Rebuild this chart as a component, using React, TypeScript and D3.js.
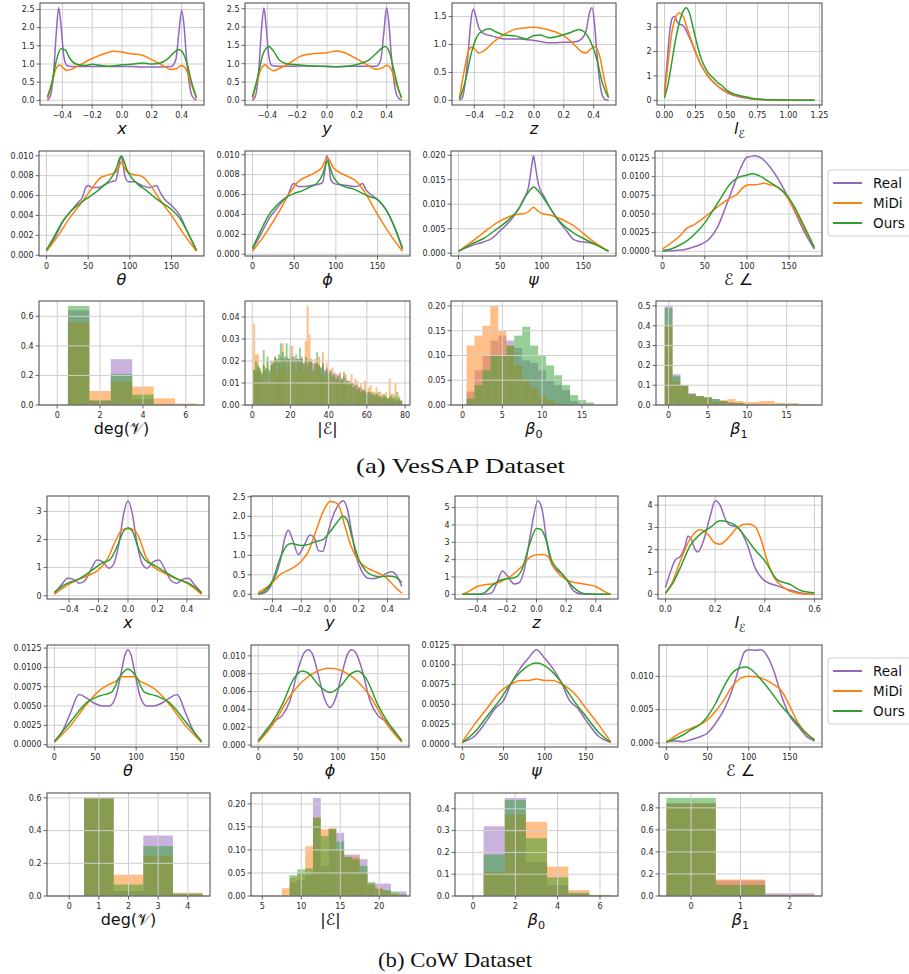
import React from 'react';
import * as d3 from 'd3';

type Pt = [number, number];

const SERIES = ['Real', 'MiDi', 'Ours'];
const COLORS = ['#9467bd', '#ff7f0e', '#2ca02c'];

// ================= VesSAP KDE data =================
const vesX_real: Pt[] = [[-0.5,0.0],[-0.48,0.12],[-0.46,0.7],[-0.44,1.9],[-0.425,2.55],[-0.41,2.1],[-0.39,1.2],[-0.37,0.96],[-0.34,0.93],[-0.25,0.93],[-0.15,0.93],[-0.05,0.93],[0.05,0.93],[0.15,0.92],[0.25,0.92],[0.33,0.93],[0.36,1.1],[0.38,1.8],[0.40,2.48],[0.415,2.1],[0.43,1.3],[0.45,0.5],[0.47,0.12],[0.5,0.0]];
const vesX_midi: Pt[] = [[-0.5,0.05],[-0.47,0.45],[-0.445,0.85],[-0.42,0.97],[-0.395,0.9],[-0.37,0.82],[-0.33,0.87],[-0.28,0.98],[-0.2,1.15],[-0.12,1.28],[-0.06,1.35],[0,1.33],[0.06,1.28],[0.13,1.25],[0.2,1.12],[0.27,0.97],[0.33,0.85],[0.36,0.86],[0.4,0.96],[0.43,0.85],[0.46,0.5],[0.5,0.05]];
const vesX_ours: Pt[] = [[-0.5,0.1],[-0.47,0.5],[-0.44,1.1],[-0.41,1.42],[-0.38,1.38],[-0.35,1.15],[-0.31,1.0],[-0.25,0.96],[-0.2,0.99],[-0.14,0.96],[-0.08,0.94],[0,0.98],[0.08,1.0],[0.14,1.03],[0.2,1.0],[0.25,1.02],[0.3,1.12],[0.35,1.32],[0.38,1.40],[0.41,1.3],[0.44,0.95],[0.47,0.45],[0.5,0.08]];

const vesY_real: Pt[] = [[-0.5,0.0],[-0.48,0.12],[-0.46,0.7],[-0.44,1.9],[-0.423,2.52],[-0.41,2.1],[-0.39,1.2],[-0.37,0.95],[-0.34,0.93],[-0.25,0.93],[-0.15,0.94],[-0.05,0.93],[0.05,0.92],[0.15,0.93],[0.25,0.93],[0.33,0.93],[0.36,1.1],[0.38,1.8],[0.40,2.53],[0.415,2.1],[0.43,1.3],[0.45,0.5],[0.47,0.12],[0.5,0.0]];
const vesY_midi: Pt[] = [[-0.5,0.05],[-0.47,0.5],[-0.44,0.88],[-0.415,0.97],[-0.39,0.88],[-0.36,0.81],[-0.32,0.87],[-0.25,1.02],[-0.18,1.2],[-0.1,1.27],[0,1.3],[0.07,1.35],[0.13,1.28],[0.2,1.13],[0.27,0.97],[0.33,0.85],[0.37,0.88],[0.4,0.96],[0.43,0.85],[0.46,0.5],[0.5,0.05]];
const vesY_ours: Pt[] = [[-0.5,0.1],[-0.47,0.55],[-0.43,1.25],[-0.39,1.47],[-0.36,1.35],[-0.32,1.1],[-0.27,1.0],[-0.2,0.97],[-0.1,0.94],[0,0.93],[0.08,0.92],[0.15,0.94],[0.22,1.0],[0.28,1.1],[0.33,1.28],[0.37,1.43],[0.39,1.47],[0.42,1.3],[0.45,0.8],[0.48,0.3],[0.5,0.08]];

const vesZ_real: Pt[] = [[-0.5,0.0],[-0.48,0.05],[-0.46,0.35],[-0.44,0.9],[-0.42,1.5],[-0.405,1.63],[-0.39,1.5],[-0.37,1.3],[-0.34,1.2],[-0.28,1.15],[-0.2,1.1],[-0.1,1.1],[0,1.07],[0.05,1.05],[0.1,1.03],[0.2,1.04],[0.28,1.05],[0.32,1.1],[0.35,1.25],[0.375,1.6],[0.39,1.66],[0.405,1.4],[0.42,0.9],[0.44,0.35],[0.46,0.08],[0.48,0.01],[0.5,0.0]];
const vesZ_midi: Pt[] = [[-0.5,0.05],[-0.47,0.5],[-0.44,0.88],[-0.42,0.95],[-0.4,0.92],[-0.37,0.85],[-0.33,0.9],[-0.27,1.05],[-0.2,1.18],[-0.12,1.28],[-0.05,1.3],[0,1.31],[0.07,1.28],[0.15,1.22],[0.22,1.12],[0.28,0.97],[0.32,0.87],[0.35,0.85],[0.38,0.92],[0.41,0.96],[0.44,0.8],[0.47,0.4],[0.5,0.05]];
const vesZ_ours: Pt[] = [[-0.5,0.02],[-0.46,0.35],[-0.42,0.85],[-0.38,1.15],[-0.34,1.25],[-0.3,1.28],[-0.25,1.22],[-0.2,1.17],[-0.12,1.15],[-0.05,1.1],[0,1.16],[0.04,1.17],[0.1,1.12],[0.18,1.16],[0.25,1.22],[0.3,1.27],[0.34,1.22],[0.38,1.05],[0.42,0.75],[0.46,0.3],[0.5,0.05]];

const vesL_real: Pt[] = [[0,0.3],[0.02,1.5],[0.04,2.7],[0.06,3.35],[0.08,3.45],[0.1,3.25],[0.12,3.12],[0.14,3.1],[0.16,3.0],[0.18,2.8],[0.22,2.35],[0.26,1.85],[0.3,1.4],[0.35,1.0],[0.4,0.72],[0.45,0.5],[0.5,0.33],[0.55,0.22],[0.6,0.15],[0.7,0.07],[0.8,0.03],[0.9,0.015],[1.0,0.008],[1.1,0.003],[1.21,0.0]];
const vesL_midi: Pt[] = [[0,0.2],[0.03,1.6],[0.06,2.8],[0.09,3.4],[0.12,3.58],[0.15,3.45],[0.18,3.0],[0.22,2.4],[0.26,1.85],[0.3,1.4],[0.35,1.0],[0.4,0.72],[0.45,0.5],[0.5,0.35],[0.55,0.24],[0.6,0.17],[0.65,0.13],[0.7,0.07],[0.8,0.03],[0.9,0.015],[1.0,0.008],[1.1,0.003],[1.21,0.0]];
const vesL_ours: Pt[] = [[0,0.1],[0.03,0.7],[0.06,1.6],[0.09,2.5],[0.12,3.2],[0.15,3.65],[0.175,3.8],[0.2,3.6],[0.23,3.0],[0.26,2.35],[0.3,1.65],[0.35,1.15],[0.4,0.88],[0.43,0.72],[0.46,0.62],[0.5,0.42],[0.55,0.28],[0.6,0.2],[0.65,0.15],[0.7,0.09],[0.8,0.04],[0.9,0.02],[1.0,0.01],[1.1,0.004],[1.21,0.0]];

const vesTheta_real: Pt[] = [[0,0.0005],[10,0.0018],[20,0.0034],[30,0.0045],[38,0.0053],[43,0.0058],[47,0.0068],[50,0.0070],[55,0.0068],[62,0.0068],[70,0.0071],[78,0.0074],[83,0.0075],[86,0.0085],[89,0.0099],[91,0.0096],[94,0.0080],[98,0.0074],[105,0.0074],[115,0.0070],[123,0.0068],[128,0.0069],[132,0.0070],[136,0.0064],[142,0.0056],[150,0.0050],[160,0.0040],[170,0.0022],[180,0.0005]];
const vesTheta_midi: Pt[] = [[0,0.0004],[15,0.0021],[30,0.0040],[45,0.0056],[55,0.0068],[65,0.0078],[75,0.0081],[82,0.0083],[87,0.0089],[90,0.0094],[93,0.0089],[98,0.0083],[105,0.0081],[115,0.0079],[125,0.0070],[135,0.0057],[150,0.0040],[165,0.0021],[180,0.0004]];
const vesTheta_ours: Pt[] = [[0,0.0005],[10,0.0020],[20,0.0035],[30,0.0045],[40,0.0052],[50,0.0058],[60,0.0064],[70,0.0071],[78,0.0078],[84,0.0088],[88,0.0098],[90,0.0100],[92,0.0097],[96,0.0087],[102,0.0078],[110,0.0071],[120,0.0065],[130,0.0058],[140,0.0052],[150,0.0046],[160,0.0037],[170,0.0022],[180,0.0005]];

const vesPhi_real: Pt[] = [[0,0.0005],[10,0.0020],[20,0.0036],[30,0.0047],[38,0.0055],[43,0.0060],[47,0.0069],[50,0.0071],[55,0.0068],[62,0.0068],[70,0.0069],[78,0.0070],[84,0.0072],[87,0.0085],[89,0.0099],[91,0.0094],[94,0.0075],[98,0.0071],[105,0.0070],[115,0.0069],[123,0.0068],[128,0.0069],[132,0.0071],[136,0.0065],[142,0.0060],[150,0.0055],[160,0.0045],[170,0.0028],[180,0.0005]];
const vesPhi_midi: Pt[] = [[0,0.0003],[15,0.0020],[30,0.0040],[45,0.0062],[55,0.0073],[65,0.0078],[75,0.0082],[83,0.0087],[90,0.0097],[97,0.0087],[105,0.0082],[115,0.0078],[125,0.0073],[135,0.0062],[150,0.0040],[165,0.0020],[180,0.0003]];
const vesPhi_ours: Pt[] = [[0,0.0006],[10,0.0024],[20,0.0040],[30,0.0050],[40,0.0057],[50,0.0061],[60,0.0064],[70,0.0068],[78,0.0072],[84,0.0080],[88,0.0090],[90,0.0094],[92,0.0090],[96,0.0080],[102,0.0072],[110,0.0068],[120,0.0066],[130,0.0062],[140,0.0058],[150,0.0055],[160,0.0045],[170,0.0028],[180,0.0006]];

const vesPsi_real: Pt[] = [[0,0.0004],[15,0.0015],[30,0.0023],[40,0.0030],[50,0.0046],[60,0.0062],[70,0.0085],[78,0.0110],[84,0.0135],[88,0.0180],[90,0.0199],[92,0.0180],[96,0.0140],[102,0.0118],[110,0.0092],[120,0.0066],[130,0.0045],[138,0.0028],[145,0.0024],[155,0.0022],[165,0.0018],[180,0.0004]];
const vesPsi_midi: Pt[] = [[0,0.0004],[15,0.0022],[30,0.0042],[40,0.0055],[50,0.0066],[60,0.0074],[70,0.0079],[80,0.0081],[86,0.0088],[90,0.0094],[94,0.0088],[100,0.0081],[110,0.0078],[120,0.0072],[130,0.0064],[140,0.0054],[150,0.0040],[165,0.0020],[180,0.0004]];
const vesPsi_ours: Pt[] = [[0,0.0004],[15,0.0018],[30,0.0030],[45,0.0048],[60,0.0068],[72,0.0090],[82,0.0120],[88,0.0133],[90,0.0135],[93,0.0132],[100,0.0118],[110,0.0092],[120,0.0068],[135,0.0045],[150,0.0030],[165,0.0017],[180,0.0004]];

const vesAng_real: Pt[] = [[0,0.0],[15,0.0001],[25,0.0002],[35,0.0005],[45,0.0009],[55,0.0016],[65,0.0032],[75,0.0060],[85,0.0090],[92,0.0110],[100,0.0126],[110,0.0128],[118,0.0124],[128,0.0112],[138,0.0095],[148,0.0074],[158,0.0050],[168,0.0026],[180,0.0003]];
const vesAng_midi: Pt[] = [[0,0.0003],[10,0.0011],[20,0.0020],[28,0.0030],[38,0.0036],[48,0.0044],[58,0.0053],[68,0.0062],[78,0.0070],[88,0.0076],[95,0.0085],[102,0.0089],[110,0.0089],[120,0.0091],[128,0.0089],[138,0.0085],[148,0.0072],[158,0.0052],[168,0.0030],[180,0.0005]];
const vesAng_ours: Pt[] = [[0,0.0001],[10,0.0003],[20,0.0008],[30,0.0015],[40,0.0025],[50,0.0038],[60,0.0055],[70,0.0073],[80,0.0090],[90,0.0099],[100,0.0102],[107,0.0104],[115,0.0101],[125,0.0094],[135,0.0087],[145,0.0078],[155,0.0062],[165,0.0040],[180,0.0005]];

// ================= VesSAP histogram data =================
const vesDeg_bins = [0, 1, 2, 3, 4, 5, 6];
const vesDeg_real = [0, 0.64, 0.03, 0.31, 0.04, 0, 0];
const vesDeg_midi = [0, 0.56, 0.095, 0.16, 0.125, 0.045, 0.01];
const vesDeg_ours = [0, 0.67, 0.03, 0.21, 0.07, 0.005, 0];

const vesEdges_bins = d3.range(1, 79);
const vesEdges_real = [0.016,0.015,0.017,0.016,0.014,0.018,0.016,0.017,0.015,0.018,0.019,0.021,0.020,0.019,0.022,0.021,0.020,0.022,0.021,0.021,0.020,0.022,0.021,0.020,0.021,0.022,0.019,0.020,0.021,0.020,0.019,0.019,0.018,0.019,0.018,0.017,0.018,0.016,0.017,0.015,0.016,0.014,0.015,0.014,0.013,0.014,0.012,0.013,0.012,0.011,0.011,0.010,0.010,0.009,0.009,0.008,0.008,0.007,0.007,0.006,0.006,0.006,0.005,0.005,0.005,0.004,0.004,0.004,0.004,0.003,0.003,0.003,0.003,0.003,0.002,0.002,0.002,0.002];
const vesEdges_midi = [0.037,0.023,0.023,0.016,0.012,0.018,0.016,0.020,0.010,0.018,0.020,0.022,0.014,0.021,0.018,0.028,0.021,0.016,0.021,0.015,0.027,0.021,0.015,0.021,0.018,0.021,0.016,0.029,0.045,0.032,0.020,0.015,0.021,0.019,0.022,0.014,0.024,0.013,0.019,0.012,0.016,0.017,0.013,0.011,0.014,0.015,0.011,0.010,0.014,0.009,0.011,0.014,0.008,0.012,0.011,0.007,0.010,0.006,0.011,0.005,0.008,0.009,0.005,0.006,0.008,0.004,0.006,0.005,0.004,0.006,0.003,0.012,0.004,0.005,0.010,0.003,0.004,0.002];
const vesEdges_ours = [0.016,0.020,0.018,0.017,0.015,0.025,0.017,0.022,0.016,0.020,0.019,0.022,0.021,0.023,0.028,0.024,0.022,0.028,0.021,0.027,0.022,0.020,0.023,0.021,0.026,0.021,0.019,0.022,0.018,0.020,0.021,0.016,0.019,0.024,0.018,0.017,0.019,0.015,0.016,0.014,0.015,0.013,0.014,0.012,0.013,0.011,0.012,0.015,0.010,0.011,0.009,0.010,0.008,0.009,0.007,0.008,0.006,0.007,0.006,0.005,0.006,0.005,0.006,0.004,0.005,0.006,0.004,0.003,0.005,0.004,0.003,0.004,0.005,0.003,0.004,0.006,0.003,0.002];

const vesB0_bins = d3.range(0, 19);
const vesB0_real = [0,0.027,0.07,0.10,0.13,0.14,0.13,0.115,0.09,0.085,0.07,0.05,0.04,0.03,0.008,0.003,0,0,0];
const vesB0_midi = [0,0.12,0.14,0.16,0.20,0.15,0.12,0.08,0.05,0.035,0.02,0.01,0.003,0,0,0,0,0,0];
const vesB0_ours = [0,0.013,0.04,0.07,0.10,0.10,0.12,0.14,0.158,0.12,0.10,0.08,0.06,0.04,0.02,0.01,0.005,0,0];

const vesB1_bins = d3.range(0, 19);
const vesB1_real = [0.50,0.155,0.10,0.06,0.045,0.035,0.03,0.02,0.015,0.01,0.005,0.005,0.003,0.002,0.001,0,0,0,0];
const vesB1_midi = [0.40,0.12,0.10,0.05,0.045,0.04,0.015,0.025,0.03,0.02,0.015,0.015,0.02,0.02,0.01,0.01,0.01,0.005,0.005];
const vesB1_ours = [0.49,0.145,0.10,0.055,0.045,0.04,0.03,0.02,0.01,0.01,0.005,0.005,0.003,0.002,0.001,0,0,0,0];

// ================= CoW KDE data =================
const cowX_real: Pt[] = [[-0.5,0.1],[-0.45,0.4],[-0.41,0.62],[-0.37,0.58],[-0.33,0.44],[-0.29,0.55],[-0.25,0.95],[-0.21,1.27],[-0.17,1.2],[-0.13,0.98],[-0.1,1.1],[-0.06,1.9],[-0.03,2.9],[0,3.38],[0.03,2.9],[0.06,1.9],[0.1,1.1],[0.13,0.98],[0.17,1.2],[0.21,1.27],[0.25,0.95],[0.29,0.55],[0.33,0.44],[0.37,0.58],[0.41,0.62],[0.45,0.4],[0.5,0.1]];
const cowX_midi: Pt[] = [[-0.5,0.05],[-0.42,0.35],[-0.35,0.55],[-0.28,0.7],[-0.2,0.92],[-0.14,1.3],[-0.08,2.0],[-0.04,2.35],[0,2.38],[0.04,2.35],[0.08,2.0],[0.12,1.4],[0.18,1.0],[0.25,0.8],[0.32,0.62],[0.4,0.45],[0.5,0.05]];
const cowX_ours: Pt[] = [[-0.5,0.12],[-0.42,0.42],[-0.34,0.58],[-0.26,0.85],[-0.18,1.15],[-0.12,1.3],[-0.07,1.8],[-0.03,2.3],[0,2.42],[0.03,2.3],[0.07,1.7],[0.12,1.25],[0.18,1.08],[0.26,0.82],[0.34,0.58],[0.42,0.42],[0.5,0.1]];

const cowY_real: Pt[] = [[-0.5,0.0],[-0.45,0.05],[-0.4,0.3],[-0.35,0.8],[-0.31,1.5],[-0.29,1.64],[-0.26,1.4],[-0.22,1.02],[-0.18,1.25],[-0.14,1.52],[-0.11,1.45],[-0.08,1.12],[-0.05,1.1],[-0.02,1.5],[0.02,2.0],[0.06,2.3],[0.09,2.4],[0.12,2.2],[0.15,1.6],[0.18,1.0],[0.22,0.6],[0.26,0.42],[0.3,0.4],[0.35,0.45],[0.4,0.55],[0.43,0.58],[0.46,0.5],[0.5,0.2]];
const cowY_midi: Pt[] = [[-0.5,0.04],[-0.4,0.3],[-0.35,0.5],[-0.3,0.6],[-0.25,0.7],[-0.2,0.85],[-0.15,1.1],[-0.1,1.6],[-0.05,2.1],[0,2.38],[0.04,2.35],[0.07,2.2],[0.1,1.8],[0.15,1.2],[0.2,0.85],[0.25,0.7],[0.3,0.6],[0.35,0.52],[0.4,0.4],[0.45,0.2],[0.5,0.03]];
const cowY_ours: Pt[] = [[-0.5,0.0],[-0.45,0.1],[-0.4,0.35],[-0.35,0.9],[-0.3,1.25],[-0.27,1.3],[-0.2,1.25],[-0.15,1.28],[-0.1,1.35],[-0.05,1.4],[0,1.6],[0.05,1.85],[0.09,2.0],[0.12,1.9],[0.15,1.5],[0.2,0.9],[0.25,0.6],[0.3,0.48],[0.35,0.45],[0.4,0.47],[0.45,0.45],[0.5,0.3]];

const cowZ_real: Pt[] = [[-0.5,0.0],[-0.35,0.0],[-0.3,0.1],[-0.27,0.6],[-0.23,1.35],[-0.2,1.1],[-0.15,0.6],[-0.12,0.65],[-0.08,1.5],[-0.04,3.5],[0.01,5.4],[0.04,4.8],[0.07,3.0],[0.1,1.8],[0.13,1.45],[0.17,1.2],[0.2,0.9],[0.25,0.2],[0.3,0.02],[0.35,0.0],[0.5,0.0]];
const cowZ_midi: Pt[] = [[-0.5,0.0],[-0.45,0.2],[-0.4,0.45],[-0.35,0.55],[-0.3,0.6],[-0.25,0.7],[-0.2,0.9],[-0.15,1.2],[-0.1,1.6],[-0.05,2.1],[0,2.28],[0.05,2.3],[0.08,2.15],[0.12,1.5],[0.16,1.1],[0.2,0.85],[0.25,0.7],[0.3,0.62],[0.35,0.55],[0.4,0.45],[0.45,0.2],[0.5,0.0]];
const cowZ_ours: Pt[] = [[-0.5,0.0],[-0.4,0.0],[-0.35,0.1],[-0.3,0.5],[-0.25,0.8],[-0.2,0.9],[-0.15,0.95],[-0.1,1.4],[-0.05,2.8],[0,3.8],[0.03,3.75],[0.07,3.0],[0.1,2.0],[0.15,1.4],[0.2,0.9],[0.25,0.4],[0.3,0.1],[0.35,0.02],[0.5,0.0]];

const cowL_real: Pt[] = [[0,0.3],[0.02,1.0],[0.04,1.55],[0.06,1.7],[0.08,2.2],[0.09,2.6],[0.1,2.55],[0.12,2.0],[0.13,1.9],[0.15,2.3],[0.18,3.5],[0.2,4.2],[0.22,4.0],[0.24,3.4],[0.26,3.1],[0.28,3.05],[0.3,2.9],[0.33,2.2],[0.36,1.2],[0.4,0.6],[0.45,0.38],[0.5,0.2],[0.55,0.05],[0.6,0.0]];
const cowL_midi: Pt[] = [[0,0.05],[0.03,0.6],[0.06,1.5],[0.1,2.5],[0.14,2.9],[0.17,2.7],[0.2,2.3],[0.22,2.25],[0.25,2.5],[0.29,3.0],[0.33,3.15],[0.36,3.05],[0.38,2.6],[0.41,1.5],[0.44,0.7],[0.47,0.35],[0.5,0.15],[0.55,0.03],[0.6,0.0]];
const cowL_ours: Pt[] = [[0,0.05],[0.03,0.5],[0.06,1.2],[0.1,2.2],[0.14,2.7],[0.18,3.0],[0.22,3.3],[0.25,3.25],[0.28,3.1],[0.32,2.6],[0.36,2.0],[0.4,1.5],[0.45,0.65],[0.5,0.45],[0.55,0.15],[0.6,0.07]];

const cowTheta_real: Pt[] = [[0,0.0004],[10,0.0018],[20,0.0042],[30,0.0065],[40,0.0060],[50,0.0053],[60,0.0050],[67,0.0050],[75,0.0062],[82,0.0095],[86,0.0115],[90,0.0123],[94,0.0115],[98,0.0095],[105,0.0062],[113,0.0050],[120,0.0050],[130,0.0053],[140,0.0060],[150,0.0065],[160,0.0042],[170,0.0018],[180,0.0004]];
const cowTheta_midi: Pt[] = [[0,0.0003],[20,0.0025],[40,0.0053],[55,0.0070],[65,0.0077],[75,0.0082],[82,0.0088],[90,0.0088],[98,0.0088],[105,0.0082],[115,0.0077],[125,0.0070],[140,0.0053],[160,0.0025],[180,0.0003]];
const cowTheta_ours: Pt[] = [[0,0.0004],[20,0.0030],[40,0.0055],[55,0.0063],[70,0.0068],[80,0.0088],[90,0.0098],[100,0.0088],[110,0.0068],[125,0.0063],[140,0.0055],[160,0.0030],[180,0.0004]];

const cowPhi_real: Pt[] = [[0,0.0004],[10,0.0017],[20,0.0027],[30,0.0033],[40,0.0050],[50,0.0085],[58,0.0104],[63,0.0107],[68,0.0102],[75,0.0080],[82,0.0055],[90,0.0042],[98,0.0055],[105,0.0080],[112,0.0102],[117,0.0107],[122,0.0104],[130,0.0085],[140,0.0050],[150,0.0033],[160,0.0027],[170,0.0017],[180,0.0004]];
const cowPhi_midi: Pt[] = [[0,0.0003],[20,0.0025],[40,0.0055],[55,0.0071],[70,0.0081],[90,0.0086],[110,0.0081],[125,0.0071],[140,0.0055],[160,0.0025],[180,0.0003]];
const cowPhi_ours: Pt[] = [[0,0.0005],[15,0.0022],[30,0.0045],[45,0.0075],[55,0.0083],[65,0.0079],[75,0.0068],[90,0.0059],[105,0.0068],[115,0.0079],[125,0.0083],[135,0.0075],[150,0.0045],[165,0.0022],[180,0.0005]];

const cowPsi_real: Pt[] = [[0,0.0002],[15,0.0010],[30,0.0030],[40,0.0045],[50,0.0055],[60,0.0078],[70,0.0095],[80,0.0108],[90,0.0119],[100,0.0108],[110,0.0095],[120,0.0078],[130,0.0055],[140,0.0045],[150,0.0030],[165,0.0010],[180,0.0002]];
const cowPsi_midi: Pt[] = [[0,0.0003],[15,0.0025],[30,0.0045],[45,0.0065],[60,0.0076],[70,0.0080],[80,0.0080],[90,0.0082],[100,0.0080],[110,0.0080],[120,0.0076],[135,0.0065],[150,0.0045],[165,0.0025],[180,0.0003]];
const cowPsi_ours: Pt[] = [[0,0.0002],[15,0.0015],[30,0.0035],[45,0.0055],[60,0.0078],[75,0.0095],[90,0.0102],[105,0.0095],[120,0.0078],[135,0.0055],[150,0.0035],[165,0.0015],[180,0.0002]];

const cowAng_real: Pt[] = [[0,0.0003],[10,0.0003],[20,0.0002],[30,0.0005],[40,0.0009],[50,0.0015],[60,0.0030],[70,0.0050],[80,0.0080],[90,0.0120],[95,0.0137],[100,0.0140],[108,0.0139],[115,0.0140],[120,0.0135],[130,0.0110],[140,0.0070],[150,0.0040],[160,0.0025],[170,0.0010],[180,0.0003]];
const cowAng_midi: Pt[] = [[0,0.0001],[10,0.0010],[20,0.0017],[30,0.0022],[40,0.0027],[50,0.0035],[60,0.0048],[70,0.0065],[80,0.0085],[90,0.0097],[100,0.0100],[110,0.0099],[120,0.0095],[130,0.0088],[140,0.0078],[150,0.0055],[160,0.0030],[170,0.0015],[180,0.0005]];
const cowAng_ours: Pt[] = [[0,0.0001],[10,0.0006],[20,0.0012],[30,0.0020],[40,0.0027],[50,0.0040],[60,0.0060],[70,0.0085],[80,0.0105],[90,0.0113],[97,0.0114],[105,0.0108],[115,0.0095],[125,0.0080],[140,0.0055],[155,0.0035],[165,0.0020],[180,0.0004]];

// ================= CoW histogram data =================
const cowDeg_bins = [0, 1, 2, 3, 4];
const cowDeg_real = [0, 0.60, 0.03, 0.37, 0.01];
const cowDeg_midi = [0, 0.60, 0.13, 0.245, 0.02];
const cowDeg_ours = [0, 0.60, 0.07, 0.305, 0.015];

const cowEdges_bins = d3.range(5, 24);
const cowEdges_real = [0,0,0,0,0.03,0.035,0.045,0.213,0.065,0.145,0.137,0.09,0.09,0.08,0.025,0.027,0.027,0.005,0.01];
const cowEdges_midi = [0,0.002,0,0.017,0.04,0.05,0.108,0.17,0.145,0.148,0.10,0.085,0.085,0.05,0.027,0.018,0.01,0.005,0.002];
const cowEdges_ours = [0,0,0,0,0.045,0.058,0.06,0.17,0.13,0.145,0.118,0.085,0.08,0.065,0.03,0.015,0.013,0.01,0.004];

const cowB0_bins = [0, 1, 2, 3, 4, 5, 6];
const cowB0_real = [0, 0.32, 0.45, 0.155, 0.05, 0.01, 0.003];
const cowB0_midi = [0, 0.11, 0.375, 0.34, 0.135, 0.027, 0.005];
const cowB0_ours = [0, 0.19, 0.44, 0.265, 0.085, 0.015, 0.003];

const cowB1_bins = [0, 1, 2];
const cowB1_real = [0.84, 0.14, 0.025];
const cowB1_midi = [0.84, 0.15, 0.01];
const cowB1_ours = [0.89, 0.10, 0.01];

// ================= tick definitions =================
const ticksPos = [-0.4, -0.2, 0, 0.2, 0.4];
const ticksAngle = [0, 50, 100, 150];

// ================= layout =================
const ROWS = [[3, 105], [151, 256], [301, 405], [496, 599], [645, 747], [793, 896]];
const COLS = [
  [[40, 204], [245, 409], [452, 616], [657, 822]],
  [[39, 204], [245, 410], [451, 616], [655, 822]],
  [[39, 204], [245, 410], [451, 617], [656, 822]],
  [[47, 209], [251, 409], [455, 618], [658, 822]],
  [[47, 209], [251, 409], [455, 618], [659, 822]],
  [[47, 210], [251, 410], [455, 618], [659, 822]],
];

const LABEL_FONT = 16;
const TICK_FONT = 8;
const FONT = '"DejaVu Sans", sans-serif';
const SERIF = '"Liberation Serif", "DejaVu Serif", serif';

const it = (s: string) => <tspan fontStyle="italic">{s}</tspan>;
const sub = (s: string) => <tspan fontSize={LABEL_FONT * 0.7} dy={4}>{s}</tspan>;

interface Spec {
  kind: 'kde' | 'hist';
  kde?: Pt[][];
  bins?: number[];
  hist?: number[][];
  xDomain?: [number, number];
  xTicks: number[];
  xFmt: string;
  yTicks: number[];
  yFmt: string;
  label: React.ReactNode;
}

function kdeDomainX(series: Pt[][]): [number, number] {
  const lo = d3.min(series, s => d3.min(s, d => d[0]))!;
  const hi = d3.max(series, s => d3.max(s, d => d[0]))!;
  const m = (hi - lo) * 0.05;
  return [lo - m, hi + m];
}
function kdeDomainY(series: Pt[][]): [number, number] {
  const lo = d3.min(series, s => d3.min(s, d => d[1]))!;
  const hi = d3.max(series, s => d3.max(s, d => d[1]))!;
  const m = (hi - lo) * 0.05;
  return [lo - m, hi + m];
}

const specs: Spec[] = [
  { kind: 'kde', kde: [vesX_real, vesX_midi, vesX_ours], xTicks: ticksPos, xFmt: '.1f', yTicks: [0, 0.5, 1, 1.5, 2, 2.5], yFmt: '.1f', label: it('x') },
  { kind: 'kde', kde: [vesY_real, vesY_midi, vesY_ours], xTicks: ticksPos, xFmt: '.1f', yTicks: [0, 0.5, 1, 1.5, 2, 2.5], yFmt: '.1f', label: it('y') },
  { kind: 'kde', kde: [vesZ_real, vesZ_midi, vesZ_ours], xTicks: ticksPos, xFmt: '.1f', yTicks: [0, 0.5, 1, 1.5], yFmt: '.1f', label: it('z') },
  { kind: 'kde', kde: [vesL_real, vesL_midi, vesL_ours], xTicks: [0, 0.25, 0.5, 0.75, 1, 1.25], xFmt: '.2f', yTicks: [0, 1, 2, 3], yFmt: 'd', label: <>{it('l')}{sub('ℰ')}</> },
  { kind: 'kde', kde: [vesTheta_real, vesTheta_midi, vesTheta_ours], xTicks: ticksAngle, xFmt: 'd', yTicks: [0, 0.002, 0.004, 0.006, 0.008, 0.01], yFmt: '.3f', label: it('θ') },
  { kind: 'kde', kde: [vesPhi_real, vesPhi_midi, vesPhi_ours], xTicks: ticksAngle, xFmt: 'd', yTicks: [0, 0.002, 0.004, 0.006, 0.008, 0.01], yFmt: '.3f', label: it('ϕ') },
  { kind: 'kde', kde: [vesPsi_real, vesPsi_midi, vesPsi_ours], xTicks: ticksAngle, xFmt: 'd', yTicks: [0, 0.005, 0.01, 0.015, 0.02], yFmt: '.3f', label: it('ψ') },
  { kind: 'kde', kde: [vesAng_real, vesAng_midi, vesAng_ours], xTicks: ticksAngle, xFmt: 'd', yTicks: [0, 0.0025, 0.005, 0.0075, 0.01, 0.0125], yFmt: '.4f', label: <>ℰ ∠</> },
  { kind: 'hist', bins: vesDeg_bins, hist: [vesDeg_real, vesDeg_midi, vesDeg_ours], xDomain: [-0.85, 6.85], xTicks: [0, 2, 4, 6], xFmt: 'd', yTicks: [0, 0.2, 0.4, 0.6], yFmt: '.1f', label: <>deg(𝒱)</> },
  { kind: 'hist', bins: vesEdges_bins, hist: [vesEdges_real, vesEdges_midi, vesEdges_ours], xDomain: [-3.8, 82.6], xTicks: [0, 20, 40, 60, 80], xFmt: 'd', yTicks: [0, 0.01, 0.02, 0.03, 0.04], yFmt: '.2f', label: <>|ℰ|</> },
  { kind: 'hist', bins: vesB0_bins, hist: [vesB0_real, vesB0_midi, vesB0_ours], xDomain: [-1.45, 19.4], xTicks: [0, 5, 10, 15], xFmt: 'd', yTicks: [0, 0.05, 0.1, 0.15, 0.2], yFmt: '.2f', label: <>{it('β')}{sub('0')}</> },
  { kind: 'hist', bins: vesB1_bins, hist: [vesB1_real, vesB1_midi, vesB1_ours], xDomain: [-1.6, 19.5], xTicks: [0, 5, 10, 15], xFmt: 'd', yTicks: [0, 0.1, 0.2, 0.3, 0.4, 0.5], yFmt: '.1f', label: <>{it('β')}{sub('1')}</> },

  { kind: 'kde', kde: [cowX_real, cowX_midi, cowX_ours], xTicks: ticksPos, xFmt: '.1f', yTicks: [0, 1, 2, 3], yFmt: 'd', label: it('x') },
  { kind: 'kde', kde: [cowY_real, cowY_midi, cowY_ours], xTicks: ticksPos, xFmt: '.1f', yTicks: [0, 0.5, 1, 1.5, 2, 2.5], yFmt: '.1f', label: it('y') },
  { kind: 'kde', kde: [cowZ_real, cowZ_midi, cowZ_ours], xTicks: ticksPos, xFmt: '.1f', yTicks: [0, 1, 2, 3, 4, 5], yFmt: 'd', label: it('z') },
  { kind: 'kde', kde: [cowL_real, cowL_midi, cowL_ours], xTicks: [0, 0.2, 0.4, 0.6], xFmt: '.1f', yTicks: [0, 1, 2, 3, 4], yFmt: 'd', label: <>{it('l')}{sub('ℰ')}</> },
  { kind: 'kde', kde: [cowTheta_real, cowTheta_midi, cowTheta_ours], xTicks: ticksAngle, xFmt: 'd', yTicks: [0, 0.0025, 0.005, 0.0075, 0.01, 0.0125], yFmt: '.4f', label: it('θ') },
  { kind: 'kde', kde: [cowPhi_real, cowPhi_midi, cowPhi_ours], xTicks: ticksAngle, xFmt: 'd', yTicks: [0, 0.002, 0.004, 0.006, 0.008, 0.01], yFmt: '.3f', label: it('ϕ') },
  { kind: 'kde', kde: [cowPsi_real, cowPsi_midi, cowPsi_ours], xTicks: ticksAngle, xFmt: 'd', yTicks: [0, 0.0025, 0.005, 0.0075, 0.01, 0.0125], yFmt: '.4f', label: it('ψ') },
  { kind: 'kde', kde: [cowAng_real, cowAng_midi, cowAng_ours], xTicks: ticksAngle, xFmt: 'd', yTicks: [0, 0.005, 0.01], yFmt: '.3f', label: <>ℰ ∠</> },
  { kind: 'hist', bins: cowDeg_bins, hist: [cowDeg_real, cowDeg_midi, cowDeg_ours], xDomain: [-0.75, 4.75], xTicks: [0, 1, 2, 3, 4], xFmt: 'd', yTicks: [0, 0.2, 0.4, 0.6], yFmt: '.1f', label: <>deg(𝒱)</> },
  { kind: 'hist', bins: cowEdges_bins, hist: [cowEdges_real, cowEdges_midi, cowEdges_ours], xDomain: [3.55, 23.95], xTicks: [5, 10, 15, 20], xFmt: 'd', yTicks: [0, 0.05, 0.1, 0.15, 0.2], yFmt: '.2f', label: <>|ℰ|</> },
  { kind: 'hist', bins: cowB0_bins, hist: [cowB0_real, cowB0_midi, cowB0_ours], xDomain: [-0.85, 6.85], xTicks: [0, 2, 4, 6], xFmt: 'd', yTicks: [0, 0.1, 0.2, 0.3, 0.4], yFmt: '.1f', label: <>{it('β')}{sub('0')}</> },
  { kind: 'hist', bins: cowB1_bins, hist: [cowB1_real, cowB1_midi, cowB1_ours], xDomain: [-0.65, 2.65], xTicks: [0, 1, 2], xFmt: 'd', yTicks: [0, 0.2, 0.4, 0.6, 0.8], yFmt: '.1f', label: <>{it('β')}{sub('1')}</> },
];

function Panel({ spec, x0, x1, y0, y1, id }: { spec: Spec; x0: number; x1: number; y0: number; y1: number; id: string }) {
  let xDomain: [number, number];
  let yDomain: [number, number];
  if (spec.kind === 'kde') {
    xDomain = kdeDomainX(spec.kde!);
    yDomain = kdeDomainY(spec.kde!);
  } else {
    xDomain = spec.xDomain!;
    const mx = d3.max(spec.hist!, s => d3.max(s))!;
    yDomain = [0, mx * 1.05];
  }
  const xs = d3.scaleLinear().domain(xDomain).range([x0, x1]);
  const ys = d3.scaleLinear().domain(yDomain).range([y1, y0]);
  const fx = d3.format(spec.xFmt);
  const fy = d3.format(spec.yFmt);
  const line = d3.line<Pt>().x(d => xs(d[0])).y(d => ys(d[1])).curve(d3.curveMonotoneX);

  const grid = (
    <g stroke="#cfcfcf" strokeWidth={1}>
      {spec.xTicks.map(t => <line key={'gx' + t} x1={xs(t)} x2={xs(t)} y1={y0} y2={y1} />)}
      {spec.yTicks.map(t => <line key={'gy' + t} x1={x0} x2={x1} y1={ys(t)} y2={ys(t)} />)}
    </g>
  );

  let marks: React.ReactNode = null;
  if (spec.kind === 'kde') {
    marks = (
      <g fill="none" strokeWidth={1.5}>
        {spec.kde!.map((s, i) => <path key={i} d={line(s) || ''} stroke={COLORS[i]} />)}
      </g>
    );
  } else {
    const bins = spec.bins!;
    const w = bins.length > 1 ? bins[1] - bins[0] : 1;
    marks = (
      <g>
        {spec.hist!.map((vals, i) => (
          <g key={i} fill={COLORS[i]} fillOpacity={0.5}>
            {vals.map((v, j) => v > 0 ? (
              <rect key={j} x={xs(bins[j] - w / 2)} width={xs(bins[j] + w / 2) - xs(bins[j] - w / 2)} y={ys(v)} height={ys(0) - ys(v)} />
            ) : null)}
          </g>
        ))}
      </g>
    );
  }

  return (
    <g>
      <defs>
        <clipPath id={id}><rect x={x0} y={y0} width={x1 - x0} height={y1 - y0} /></clipPath>
      </defs>
      <rect x={x0} y={y0} width={x1 - x0} height={y1 - y0} fill="#fff" />
      {spec.kind === 'kde' ? <>{grid}<g clipPath={`url(#${id})`}>{marks}</g></> : <><g clipPath={`url(#${id})`}>{marks}</g>{grid}</>}
      <rect x={x0} y={y0} width={x1 - x0} height={y1 - y0} fill="none" stroke="#444" strokeWidth={1} />
      <g stroke="#444" strokeWidth={0.8}>
        {spec.xTicks.map(t => <line key={'tx' + t} x1={xs(t)} x2={xs(t)} y1={y1} y2={y1 + 3.5} />)}
        {spec.yTicks.map(t => <line key={'ty' + t} x1={x0 - 3.5} x2={x0} y1={ys(t)} y2={ys(t)} />)}
      </g>
      <g fontFamily={FONT} fontSize={TICK_FONT} fill="#262626">
        {spec.xTicks.map(t => <text key={'lx' + t} x={xs(t)} y={y1 + 13} textAnchor="middle">{fx(t)}</text>)}
        {spec.yTicks.map(t => <text key={'ly' + t} x={x0 - 5.5} y={ys(t)} dy="0.35em" textAnchor="end">{fy(t)}</text>)}
      </g>
      <text x={(x0 + x1) / 2} y={y1 + 29} textAnchor="middle" fontFamily={FONT} fontSize={LABEL_FONT} fill="#111">{spec.label}</text>
    </g>
  );
}

function Legend({ x, y }: { x: number; y: number }) {
  return (
    <g>
      <rect x={x} y={y} width={95} height={66} rx={3} fill="#fff" stroke="#d0d0d0" strokeWidth={1} />
      {SERIES.map((s, i) => (
        <g key={s}>
          <line x1={x + 5} x2={x + 34} y1={y + 13 + i * 20} y2={y + 13 + i * 20} stroke={COLORS[i]} strokeWidth={2} />
          <text x={x + 45} y={y + 13 + i * 20} dy="0.36em" fontFamily={FONT} fontSize={13.5} fill="#111">{s}</text>
        </g>
      ))}
    </g>
  );
}

export default function App() {
  return (
    <svg width={909} height={974} style={{ position: 'absolute', left: 0, top: 0, background: '#fff' }}>
      <rect x={0} y={0} width={909} height={974} fill="#fff" />
      {specs.map((spec, k) => {
        const r = Math.floor(k / 4);
        const c = k % 4;
        const [x0, x1] = COLS[r][c];
        const [y0, y1] = ROWS[r];
        return <Panel key={k} spec={spec} x0={x0} x1={x1} y0={y0} y1={y1} id={`clip${k}`} />;
      })}
      <Legend x={828} y={170} />
      <Legend x={828} y={658} />
      <text x={356} y={473} textLength={209} lengthAdjust="spacingAndGlyphs" fontFamily={SERIF} fontSize={22} fill="#111">(a) VesSAP Dataset</text>
      <text x={378} y={967} textLength={154} lengthAdjust="spacingAndGlyphs" fontFamily={SERIF} fontSize={22} fill="#111">(b) CoW Dataset</text>
    </svg>
  );
}
